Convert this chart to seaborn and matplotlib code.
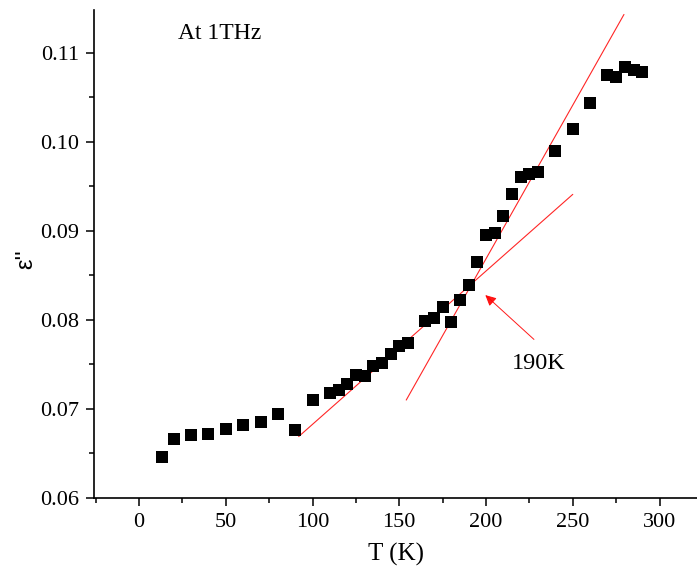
import matplotlib
matplotlib.use("Agg")
import matplotlib.pyplot as plt
from matplotlib.ticker import MultipleLocator, AutoMinorLocator
import seaborn as sns
import pandas as pd

# Temperature (K) and imaginary permittivity at 1 THz
temperature = [13, 20, 30, 40, 50, 60, 70, 80, 90, 100, 110, 115, 120, 125, 130,
               135, 140, 145, 150, 155, 165, 170, 175, 180, 185, 190, 195, 200,
               205, 210, 215, 220, 225, 230, 240, 250, 260, 270, 275, 280, 285, 290]
eps_imag = [0.0646, 0.0666, 0.0671, 0.0672, 0.0678, 0.0682, 0.0685, 0.0694, 0.0676,
            0.0710, 0.0718, 0.0721, 0.0728, 0.0738, 0.0737, 0.0748, 0.0752, 0.0762,
            0.0771, 0.0774, 0.0799, 0.0802, 0.0815, 0.0798, 0.0822, 0.0839, 0.0865,
            0.0895, 0.0898, 0.0917, 0.0941, 0.0961, 0.0964, 0.0966, 0.0990, 0.1014,
            0.1044, 0.1075, 0.1073, 0.1084, 0.1081, 0.1078]

# Linear guides below and above the transition
low_fit_T = [92, 250]
low_fit_eps = [0.0669, 0.0941]
high_fit_T = [154, 279.5]
high_fit_eps = [0.0710, 0.1143]

transition_label = "190K"
freq_label = "At 1THz"

df = pd.DataFrame({"T": temperature, "eps": eps_imag})

sns.set_theme(style="ticks")
plt.rcParams["font.family"] = ["Liberation Serif", "DejaVu Serif"]
plt.rcParams["text.color"] = "black"
plt.rcParams["axes.labelcolor"] = "black"
plt.rcParams["xtick.color"] = "black"
plt.rcParams["ytick.color"] = "black"

fig = plt.figure(figsize=(6.97, 5.76), dpi=100)
ax = fig.add_axes([0.1353, 0.1354, 0.8647, 0.8472])

sns.lineplot(x=low_fit_T, y=low_fit_eps, ax=ax, color="red", lw=0.8, alpha=0.85)
sns.lineplot(x=high_fit_T, y=high_fit_eps, ax=ax, color="red", lw=0.8, alpha=0.85)
sns.scatterplot(data=df, x="T", y="eps", ax=ax, marker="s", s=80,
                color="black", edgecolor="black", linewidth=0, zorder=3)

ax.annotate("", xy=(198.4, 0.0830), xytext=(228.8, 0.0776),
            arrowprops=dict(arrowstyle="-|>", color="red", lw=0.7,
                            mutation_scale=16, alpha=0.9))
ax.text(215, 0.0751, transition_label, fontsize=17.5, va="center", ha="left",
        color="black")
ax.text(22.5, 0.1122, freq_label, fontsize=17, va="center", ha="left",
        color="black")

ax.set_xlim(-25.8, 321.6)
ax.set_ylim(0.06, 0.1148)
ax.xaxis.set_major_locator(MultipleLocator(50))
ax.xaxis.set_minor_locator(MultipleLocator(25))
ax.yaxis.set_major_locator(MultipleLocator(0.01))
ax.yaxis.set_minor_locator(AutoMinorLocator(2))
ax.set_yticks([0.06, 0.07, 0.08, 0.09, 0.10, 0.11])
ax.set_yticklabels(["0.06", "0.07", "0.08", "0.09", "0.10", "0.11"])

ax.tick_params(axis="both", which="major", direction="out", length=6, width=1.1,
               labelsize=16, colors="black", labelcolor="black", pad=5)
ax.tick_params(axis="both", which="minor", direction="out", length=3.5, width=1.1,
               colors="black")

sns.despine(ax=ax)
for side in ("left", "bottom"):
    ax.spines[side].set_linewidth(1.2)
    ax.spines[side].set_color("black")

ax.set_xlabel("T (K)", fontsize=18, labelpad=8, color="black")
ax.set_ylabel("ε''", fontsize=17, family=["Liberation Sans", "DejaVu Sans"],
              color="black")
ax.yaxis.set_label_coords(-0.095, 0.49)

fig.savefig("out.png", dpi=100)
